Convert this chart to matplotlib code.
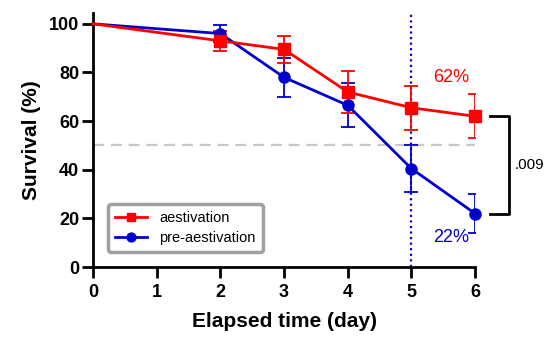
import matplotlib
matplotlib.use("Agg")
import matplotlib.pyplot as plt

plt.rcParams['font.family'] = ['Liberation Sans', 'DejaVu Sans']

days = [0, 2, 3, 4, 5, 6]
aest = [100, 93, 89.5, 72, 65.5, 62]
aest_err = [0, 4, 5.5, 8.5, 9, 9]
pre = [100, 96, 78, 66.5, 40.5, 22]
pre_err = [0, 3.5, 8, 9, 9.5, 8]
xticks = [0, 1, 2, 3, 4, 5, 6]
yticks = [0, 20, 40, 60, 80, 100]

fig = plt.figure(figsize=(5.57, 3.39), dpi=100)
ax = fig.add_axes([0.167, 0.212, 0.686, 0.75])

red = '#ff0000'
blue = '#0000cc'

ax.axhline(50, xmin=0, xmax=1, color='#c8c8c8', lw=1.6, ls=(0, (5, 3)), zorder=1)
ax.axvline(5, color=blue, lw=1.6, ls=(0, (1, 1.5)), zorder=1)

ax.errorbar(days[1:], aest[1:], yerr=aest_err[1:], fmt='none', ecolor=red,
            capsize=5, capthick=1.3, elinewidth=1.3, zorder=3)
ax.errorbar(days[1:], pre[1:], yerr=pre_err[1:], fmt='none', ecolor=blue,
            capsize=5, capthick=1.3, elinewidth=1.3, zorder=2)
la, = ax.plot(days, aest, color=red, marker='s', ms=8, lw=2, markevery=list(range(1, len(days))),
              label='aestivation', zorder=4, clip_on=False)
lp, = ax.plot(days, pre, color=blue, marker='o', ms=8, lw=2, markevery=list(range(1, len(days))),
              label='pre-aestivation', zorder=3, clip_on=False)

ax.text(5.62, 78, '62%', color=red, fontsize=13, ha='center', va='center')
ax.text(5.62, 12, '22%', color=blue, fontsize=13, ha='center', va='center')

# significance bracket
bx0, bx1 = 6.23, 6.53
ax.plot([bx0, bx1, bx1, bx0], [aest[-1], aest[-1], pre[-1], pre[-1]],
        color='black', lw=2, clip_on=False)
ax.text(6.62, (aest[-1] + pre[-1]) / 2, '.009', fontsize=11, ha='left', va='center')

ax.set_xlim(0, 6)
ax.set_ylim(0, 104.5)
ax.set_xticks(xticks)
ax.set_yticks(yticks)
for lab in ax.get_xticklabels() + ax.get_yticklabels():
    lab.set_fontweight('bold')
ax.tick_params(labelsize=13, width=2, length=8)
ax.tick_params(axis='y', pad=2)
ax.tick_params(axis='x', pad=4)
for s in ['top', 'right']:
    ax.spines[s].set_visible(False)
for s in ['left', 'bottom']:
    ax.spines[s].set_linewidth(2)

ax.set_xlabel('Elapsed time (day)', fontsize=15, fontweight='bold', labelpad=8)
ax.set_ylabel('Survival (%)', fontsize=15, fontweight='bold', labelpad=6)

leg = ax.legend(handles=[la, lp], loc='lower left', bbox_to_anchor=(0.02, 0.03), fontsize=10.5,
                frameon=True, fancybox=True, handlelength=2.2, borderpad=0.5,
                labelspacing=0.4, markerscale=0.8)
leg.get_frame().set_edgecolor('#888888')
leg.get_frame().set_linewidth(2.5)

fig.savefig('out.png', dpi=100)
